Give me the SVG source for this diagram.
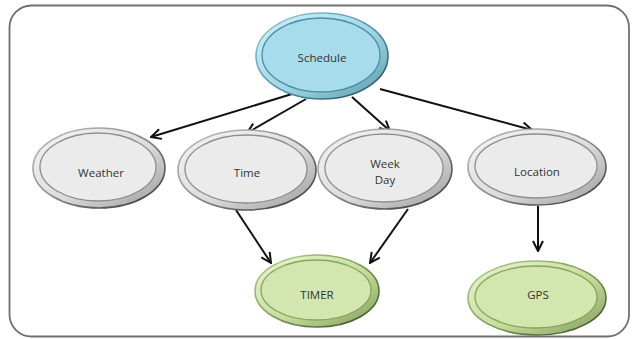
<svg xmlns="http://www.w3.org/2000/svg" width="634" height="339" viewBox="0 0 634 339">
  <style>
    .lbl { font-family: "Open Sans", "Liberation Sans", sans-serif; font-size: 11.5px; fill: #333; text-anchor: middle; dominant-baseline: central; }
    .edge { stroke: #111; stroke-width: 2; fill: none; marker-end: url(#arrow); }
    .inner { fill: none; stroke-width: 1.3; }
    .gray .outer { fill: url(#gGray); stroke: url(#eGray); stroke-width: 1.6; }
    .gray .core { fill: #ebebeb; }
    .gray .inner { stroke: #8e8e8e; }
    .blue .outer { fill: url(#gBlue); stroke: url(#eBlue); stroke-width: 1.6; }
    .blue .core { fill: #a6dcec; }
    .blue .inner { stroke: #4f8ea2; }
    .green .outer { fill: url(#gGreen); stroke: url(#eGreen); stroke-width: 1.6; }
    .green .core { fill: #d3e6b0; }
    .green .inner { stroke: #86a65a; }
  </style>
  <defs>
    <linearGradient id="gGray" x1="0" y1="0" x2="1" y2="1">
      <stop offset="0" stop-color="#f6f6f6"/>
      <stop offset="0.55" stop-color="#dcdcdc"/>
      <stop offset="1" stop-color="#9a9a9a"/>
    </linearGradient>
    <linearGradient id="eGray" x1="0" y1="0" x2="1" y2="1">
      <stop offset="0" stop-color="#c4c4c4"/>
      <stop offset="0.5" stop-color="#8a8a8a"/>
      <stop offset="1" stop-color="#2e2e2e"/>
    </linearGradient>
    <linearGradient id="gBlue" x1="0" y1="0" x2="1" y2="1">
      <stop offset="0" stop-color="#d2f1fa"/>
      <stop offset="0.55" stop-color="#9fd6e6"/>
      <stop offset="1" stop-color="#5a98aa"/>
    </linearGradient>
    <linearGradient id="eBlue" x1="0" y1="0" x2="1" y2="1">
      <stop offset="0" stop-color="#9ccfdd"/>
      <stop offset="0.5" stop-color="#5a96a8"/>
      <stop offset="1" stop-color="#1f4a58"/>
    </linearGradient>
    <linearGradient id="gGreen" x1="0" y1="0" x2="1" y2="1">
      <stop offset="0" stop-color="#eaf4d6"/>
      <stop offset="0.55" stop-color="#c6dd9e"/>
      <stop offset="1" stop-color="#7f9a58"/>
    </linearGradient>
    <linearGradient id="eGreen" x1="0" y1="0" x2="1" y2="1">
      <stop offset="0" stop-color="#b9d394"/>
      <stop offset="0.5" stop-color="#7f9d55"/>
      <stop offset="1" stop-color="#36491f"/>
    </linearGradient>
    <marker id="arrow" viewBox="0 0 12 12" refX="11" refY="6" markerWidth="6" markerHeight="6" orient="auto" markerUnits="strokeWidth">
      <path d="M1,1 L11,6 L1,11" fill="none" stroke="#111" stroke-width="2"/>
    </marker>
  </defs>

  <!-- frame -->
  <rect x="9.5" y="5.5" width="619.5" height="331" rx="22" ry="22" fill="#fff" stroke="#707070" stroke-width="1.8"/>

  <!-- connectors -->
  <g id="connectors">
    <line class="edge" x1="292" y1="94" x2="151" y2="137"/>
    <line class="edge" x1="306" y1="99" x2="247" y2="133"/>
    <line class="edge" x1="352" y1="97" x2="390" y2="131"/>
    <line class="edge" x1="380" y1="89" x2="532" y2="130"/>
    <line class="edge" x1="236" y1="210" x2="271" y2="263"/>
    <line class="edge" x1="408" y1="209" x2="370" y2="263"/>
    <line class="edge" x1="538" y1="206" x2="538" y2="251"/>
  </g>

  <!-- nodes -->
  <g id="schedule" class="blue">
    <ellipse class="outer" cx="322" cy="56" rx="66" ry="43"/>
    <ellipse class="core" cx="321" cy="55" rx="59" ry="37"/>
    <ellipse class="inner" cx="321" cy="55" rx="59" ry="37"/>
    <text class="lbl" x="322" y="57">Schedule</text>
  </g>
  <g id="weather" class="gray">
    <ellipse class="outer" cx="99" cy="168" rx="66" ry="40"/>
    <ellipse class="core" cx="98" cy="167" rx="58" ry="34"/>
    <ellipse class="inner" cx="98" cy="167" rx="58" ry="34"/>
    <text class="lbl" x="101" y="172">Weather</text>
  </g>
  <g id="time" class="gray">
    <ellipse class="outer" cx="247" cy="170" rx="69" ry="40"/>
    <ellipse class="core" cx="246" cy="169" rx="61" ry="34"/>
    <ellipse class="inner" cx="246" cy="169" rx="61" ry="34"/>
    <text class="lbl" x="247" y="172">Time</text>
  </g>
  <g id="weekday" class="gray">
    <ellipse class="outer" cx="385" cy="169" rx="67" ry="40"/>
    <ellipse class="core" cx="384" cy="168" rx="59" ry="34"/>
    <ellipse class="inner" cx="384" cy="168" rx="59" ry="34"/>
    <text class="lbl" x="385" y="163">Week</text>
    <text class="lbl" x="385" y="179">Day</text>
  </g>
  <g id="location" class="gray">
    <ellipse class="outer" cx="537" cy="167" rx="69" ry="38"/>
    <ellipse class="core" cx="536" cy="166" rx="61" ry="32"/>
    <ellipse class="inner" cx="536" cy="166" rx="61" ry="32"/>
    <text class="lbl" x="537" y="171">Location</text>
  </g>
  <g id="timer" class="green">
    <ellipse class="outer" cx="317" cy="291" rx="62" ry="36"/>
    <ellipse class="core" cx="316" cy="290" rx="55" ry="30"/>
    <ellipse class="inner" cx="316" cy="290" rx="55" ry="30"/>
    <text class="lbl" x="317" y="294">TIMER</text>
  </g>
  <g id="gps" class="green">
    <ellipse class="outer" cx="537" cy="298" rx="69" ry="37"/>
    <ellipse class="core" cx="536" cy="297" rx="61" ry="31"/>
    <ellipse class="inner" cx="536" cy="297" rx="61" ry="31"/>
    <text class="lbl" x="538" y="294">GPS</text>
  </g>
</svg>
